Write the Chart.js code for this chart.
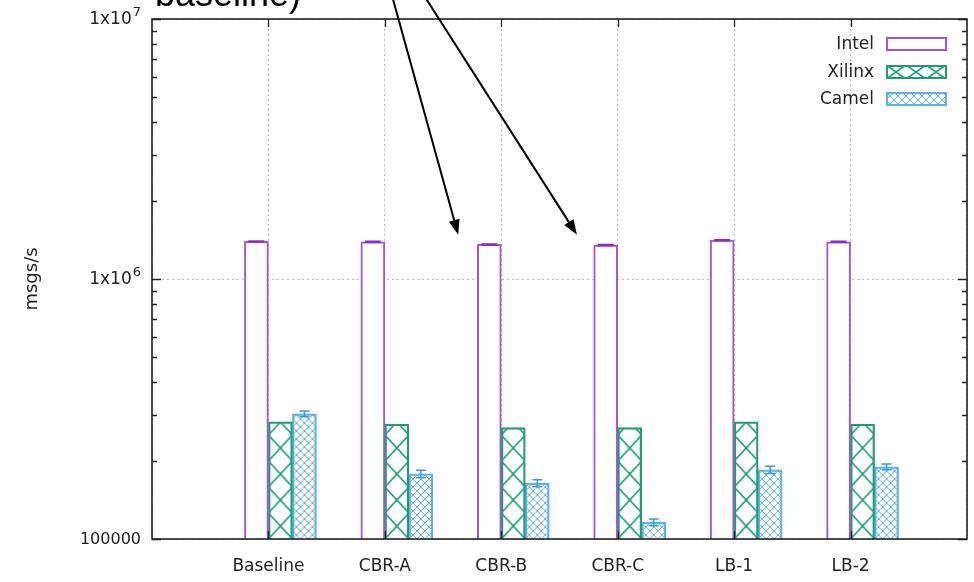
<!DOCTYPE html>
<html>
<head>
<meta charset="utf-8">
<script src="https://cdn.jsdelivr.net/npm/chart.js@4.4.0/dist/chart.umd.min.js"></script>
<style>
    html, body { margin: 0; padding: 0; background: #fff; overflow: hidden; }
    #wrap { width: 974px; height: 582px; position: relative; }
    canvas { display: block; }
</style>
</head>
<body>
<div id="wrap"><canvas id="chart"></canvas></div>
<script>
// dados do gráfico
const categories = ['Baseline', 'CBR-A', 'CBR-B', 'CBR-C', 'LB-1', 'LB-2'];
const seriesNames = ['Intel', 'Xilinx', 'Camel'];
const intelValues = [1395000, 1390000, 1358000, 1350000, 1410000, 1390000];
const xilinxValues = [282000, 277000, 268000, 268000, 282000, 277000];
const camelValues = [303000, 178000, 164000, 116000, 184500, 189500];
const intelErrors = [6000, 6000, 6000, 6000, 6000, 6000];
const camelErrors = [8000, 6000, 5000, 3500, 6000, 5000];
const yTickValues = [100000, 1000000, 10000000];
// rótulos do eixo y: [base, expoente]
const yTickLabels = [['100000', ''], ['1x10', '6'], ['1x10', '7']];
const yTitle = 'msgs/s';

// anotação (texto cortado e setas)
const noteText = 'baseline)';
const arrowStart = [1.85, 27000000];
const arrowTips = [[2.63, 1480000], [3.65, 1480000]];

const intelColor = '#a452d6';
const xilinxColor = '#1f9d72';
const camelColor = '#5cb2e6';
const tickFont = { family: 'DejaVu Sans', size: 17 };

// eixo x de -1 a 6 (estilo gnuplot): rótulos vazios nas pontas
const labels = [''].concat(categories, ['']);
function pad(arr) { return [null].concat(arr, [null]); }

// padrões de preenchimento
function makeTile(w, h, color, lw) {
    const c = document.createElement('canvas');
    c.width = w; c.height = h;
    const g = c.getContext('2d');
    g.strokeStyle = color;
    g.lineWidth = lw;
    g.beginPath();
    g.moveTo(0, 0); g.lineTo(w, h);
    g.moveTo(w, 0); g.lineTo(0, h);
    g.stroke();
    return c;
}
const xilinxTile = makeTile(24, 26, xilinxColor, 1.6);
const xilinxLegendTile = makeTile(20, 14, xilinxColor, 1.6);
const camelTile = makeTile(8, 8, camelColor, 1);

function patternAt(chart, tile, x, y) {
    const p = chart.ctx.createPattern(tile, 'repeat');
    p.setTransform(new DOMMatrix().translate(x, y));
    return p;
}

function patternFill(tile, slot, color) {
    return function(ctx) {
        const chart = ctx.chart;
        if (ctx.dataIndex === undefined || !chart.chartArea || !chart.scales.x) return color;
        const left = chart.scales.x.getPixelForValue(ctx.dataIndex) - 48 + slot * 24;
        return patternAt(chart, tile, left, chart.chartArea.bottom);
    };
}

// rótulos do eixo y com expoente sobrescrito
const yLabelPlugin = {
    id: 'yLabels',
    afterDraw(chart) {
        const g = chart.ctx;
        const a = chart.chartArea;
        const y = chart.scales.y;
        g.save();
        g.fillStyle = '#222';
        g.textBaseline = 'middle';
        g.textAlign = 'left';
        yTickValues.forEach((v, i) => {
            const [base, exp] = yTickLabels[i];
            const baseFont = exp ? '17px "DejaVu Sans"' : '16px "DejaVu Sans"';
            const py = y.getPixelForValue(v);
            g.font = baseFont;
            const bw = g.measureText(base).width;
            g.font = '13px "DejaVu Sans"';
            const ew = exp ? g.measureText(exp).width + 1 : 0;
            const x0 = a.left - 11 - bw - ew;
            g.font = baseFont;
            g.fillText(base, x0, py + 1);
            if (exp) {
                g.font = '13px "DejaVu Sans"';
                g.fillText(exp, x0 + bw + 1, py - 6);
            }
        });
        g.restore();
    }
};

// moldura, marcas internas e grade
const framePlugin = {
    id: 'frame',
    afterDatasetsDraw(chart) {
        const g = chart.ctx;
        const a = chart.chartArea;
        const y = chart.scales.y;
        const x = chart.scales.x;
        g.save();
        g.strokeStyle = '#222';
        g.lineWidth = 1.3;
        // marcas do eixo y (maiores e menores)
        for (let d = 0; d < yTickValues.length; d++) {
            const base = yTickValues[d];
            const py = Math.round(y.getPixelForValue(base)) + 0.5;
            g.beginPath();
            g.moveTo(a.left, py); g.lineTo(a.left + 9, py);
            g.moveTo(a.right, py); g.lineTo(a.right - 9, py);
            g.stroke();
            if (d === yTickValues.length - 1) break;
            for (let m = 2; m <= 9; m++) {
                const pm = Math.round(y.getPixelForValue(base * m)) + 0.5;
                g.beginPath();
                g.moveTo(a.left, pm); g.lineTo(a.left + 5, pm);
                g.moveTo(a.right, pm); g.lineTo(a.right - 5, pm);
                g.stroke();
            }
        }
        // marcas do eixo x
        for (let i = 1; i <= categories.length; i++) {
            const px = Math.round(x.getPixelForValue(i)) + 0.5;
            g.beginPath();
            g.moveTo(px, a.top); g.lineTo(px, a.top + 8);
            g.moveTo(px, a.bottom); g.lineTo(px, a.bottom - 8);
            g.stroke();
        }
        g.lineWidth = 1.6;
        g.strokeRect(a.left, a.top, a.right - a.left, a.bottom - a.top);
        g.restore();
    }
};

// barras de erro
const errorPlugin = {
    id: 'errorBars',
    afterDatasetsDraw(chart) {
        const g = chart.ctx;
        const y = chart.scales.y;
        const sets = [[1, intelValues, intelErrors, '#8a2cc4', 8], [3, camelValues, camelErrors, '#3d9ad6', 5]];
        g.save();
        g.lineWidth = 1.5;
        sets.forEach(([di, vals, errs, color, cap]) => {
            const meta = chart.getDatasetMeta(di);
            g.strokeStyle = color;
            vals.forEach((v, i) => {
                const bar = meta.data[i + 1];
                if (!bar) return;
                const cx = bar.x;
                const top = y.getPixelForValue(v + errs[i]);
                const bot = y.getPixelForValue(v - errs[i]);
                g.beginPath();
                g.moveTo(cx, top); g.lineTo(cx, bot);
                g.moveTo(cx - cap, top); g.lineTo(cx + cap, top);
                g.moveTo(cx - cap, bot); g.lineTo(cx + cap, bot);
                g.stroke();
            });
        });
        g.restore();
    }
};

// legenda dentro do gráfico (texto à esquerda da caixa)
const legendPlugin = {
    id: 'insideLegend',
    afterDraw(chart) {
        const g = chart.ctx;
        const a = chart.chartArea;
        const boxW = 61, boxH = 14;
        const boxX = a.right - 20 - boxW;
        const styles = [
            { stroke: intelColor, fill: '#fff' },
            { stroke: xilinxColor, tile: xilinxLegendTile },
            { stroke: camelColor, tile: camelTile }
        ];
        g.save();
        g.font = '17px "DejaVu Sans"';
        g.textAlign = 'right';
        g.textBaseline = 'middle';
        seriesNames.forEach((name, i) => {
            const cy = a.top + 25 + i * 27.5;
            const by = Math.round(cy - boxH / 2);
            g.fillStyle = '#222';
            g.fillText(name, boxX - 12, cy + 1);
            g.fillStyle = styles[i].tile ? patternAt(chart, styles[i].tile, boxX, by) : styles[i].fill;
            g.fillRect(boxX, by, boxW, boxH);
            g.strokeStyle = styles[i].stroke;
            g.lineWidth = 2;
            g.strokeRect(boxX + 1, by + 1, boxW - 2, boxH - 2);
        });
        g.restore();
    }
};

// texto e setas da anotação
const notePlugin = {
    id: 'note',
    afterDraw(chart) {
        const g = chart.ctx;
        const a = chart.chartArea;
        const x = chart.scales.x;
        const y = chart.scales.y;
        g.save();
        g.fillStyle = '#000';
        g.font = '36px "Liberation Sans"';
        g.textAlign = 'left';
        g.textBaseline = 'alphabetic';
        g.fillText(noteText, a.left + 3, a.top - 13);
        const sx = x.getPixelForValue(arrowStart[0]);
        const sy = y.getPixelForValue(arrowStart[1]);
        g.strokeStyle = '#000';
        g.lineWidth = 2;
        arrowTips.forEach(t => {
            const tx = x.getPixelForValue(t[0]);
            const ty = y.getPixelForValue(t[1]);
            const ang = Math.atan2(ty - sy, tx - sx);
            const len = 15, hw = 5.5;
            const bx = tx - len * Math.cos(ang), by = ty - len * Math.sin(ang);
            g.beginPath();
            g.moveTo(sx, sy); g.lineTo(bx, by);
            g.stroke();
            g.beginPath();
            g.moveTo(tx, ty);
            g.lineTo(bx + hw * Math.sin(ang), by - hw * Math.cos(ang));
            g.lineTo(bx - hw * Math.sin(ang), by + hw * Math.cos(ang));
            g.closePath();
            g.fill();
        });
        g.restore();
    }
};

function createChart() {
    const ctx = document.getElementById('chart');
    const chart = new Chart(ctx, {
        type: 'bar',
        data: {
            labels: labels,
            datasets: [{
                label: '',
                data: pad(categories.map(() => null))
            }, {
                label: seriesNames[0],
                data: pad(intelValues),
                backgroundColor: '#fff',
                borderColor: intelColor,
                borderWidth: 2
            }, {
                label: seriesNames[1],
                data: pad(xilinxValues),
                backgroundColor: patternFill(xilinxTile, 2, xilinxColor),
                borderColor: xilinxColor,
                borderWidth: 1.6
            }, {
                label: seriesNames[2],
                data: pad(camelValues),
                backgroundColor: patternFill(camelTile, 3, camelColor),
                borderColor: camelColor,
                borderWidth: 1.6
            }]
        },
        options: {
            responsive: true,
            maintainAspectRatio: false,
            animation: false,
            barThickness: 24,
            layout: { autoPadding: false, padding: { left: 0, right: 7, top: 19, bottom: 0 } },
            plugins: {
                legend: { display: false },
                tooltip: { enabled: false }
            },
            scales: {
                x: {
                    type: 'category',
                    offset: false,
                    grid: { offset: false, color: '#b8b8b8', lineWidth: 1, drawTicks: false },
                    border: { display: false, dash: [2, 3] },
                    ticks: {
                        autoSkip: false,
                        maxRotation: 0,
                        padding: 17,
                        color: '#222',
                        font: tickFont
                    },
                    afterFit: s => {
                        s.height = 43;
                        s.paddingLeft = 0;
                        s.paddingRight = 0;
                    }
                },
                y: {
                    type: 'logarithmic',
                    min: yTickValues[0],
                    max: yTickValues[yTickValues.length - 1],
                    afterBuildTicks: s => { s.ticks = yTickValues.map(v => ({ value: v })); },
                    grid: { color: '#b8b8b8', lineWidth: 1, drawTicks: false },
                    border: { display: false, dash: [2, 3] },
                    ticks: { display: false },
                    title: {
                        display: true,
                        text: yTitle,
                        color: '#222',
                        font: { family: 'DejaVu Sans', size: 18 },
                        padding: { top: 22, bottom: 0 }
                    },
                    afterFit: s => { s.width = 152; }
                }
            }
        },
        plugins: [framePlugin, errorPlugin, legendPlugin, notePlugin, yLabelPlugin]
    });
    window.mainChart = chart;
}

createChart();
</script>
</body>
</html>
